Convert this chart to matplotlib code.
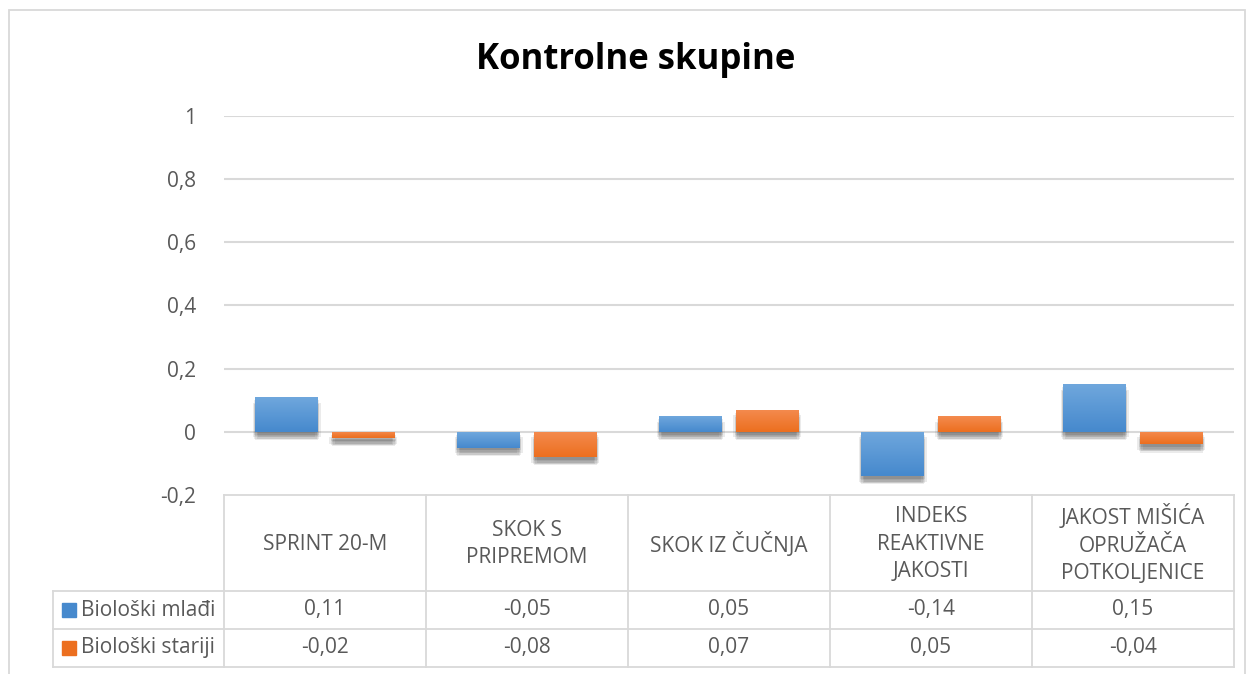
import numpy as np
import matplotlib.pyplot as plt
import matplotlib.patheffects as pe
from matplotlib.lines import Line2D
from matplotlib.patches import Rectangle
from matplotlib.transforms import blended_transform_factory

plt.rcParams['font.family'] = ['Open Sans', 'DejaVu Sans']

# data
categories = ["SPRINT 20-M", "SKOK S\nPRIPREMOM", "SKOK IZ ČUČNJA",
              "INDEKS\nREAKTIVNE\nJAKOSTI", "JAKOST MIŠIĆA\nOPRUŽAČA\nPOTKOLJENICE"]
series_names = ["Biološki mlađi", "Biološki stariji"]
mladi = [0.11, -0.05, 0.05, -0.14, 0.15]
stariji = [-0.02, -0.08, 0.07, 0.05, -0.04]
yticks = [-0.2, 0, 0.2, 0.4, 0.6, 0.8, 1]

W, H = 1251, 674
blue_top, blue_bot = "#6fa7dd", "#4689cd"
orange_top, orange_bot = "#f48b4f", "#ec6f1f"
grid_c = "#d9d9d9"
text_c = "#595959"
fs = 15

fig = plt.figure(figsize=(W / 100, H / 100), dpi=100)


def fx(x):
    return x / W


def fy(y):
    return 1 - y / H


def hline(x0, x1, y):
    fig.add_artist(Line2D([fx(x0), fx(x1)], [fy(y), fy(y)], color=grid_c, lw=1.3,
                          transform=fig.transFigure))


def vline(x, y0, y1):
    fig.add_artist(Line2D([fx(x), fx(x)], [fy(y0), fy(y1)], color=grid_c, lw=1.3,
                          transform=fig.transFigure))


# outer chart border
fig.add_artist(Rectangle((fx(9), fy(690)), fx(1236), 680 / H, fill=False,
                         edgecolor=grid_c, lw=1.3, transform=fig.transFigure))

left, right, top, bottom = 224, 1234, 116, 495
ax = fig.add_axes([fx(left), fy(bottom), fx(right - left), (bottom - top) / H])
ax.set_xlim(-0.5, 4.5)
ax.set_ylim(-0.2, 1)
for s in ax.spines.values():
    s.set_visible(False)
ax.set_xticks([])
ax.set_yticks(yticks)
ax.set_yticklabels([f"{t:g}".replace(".", ",") for t in yticks], fontsize=fs, color=text_c)
ax.tick_params(axis='y', length=0, pad=20)
for t in yticks[1:]:
    ax.axhline(t, color=grid_c, lw=1.5, zorder=1)

x = np.arange(len(categories))
bw = 0.31
off = 0.19

# soft shadow: a few faint offset copies
shadow = [pe.SimplePatchShadow(offset=(dx, dy), shadow_rgbFace='#444444', alpha=0.1)
          for dx, dy in [(-1, -2), (1, -2), (0, -3), (-1, -5), (1, -5), (0, -6), (2, -4), (-2, -4)]]


def grad_bars(xs, vals, ctop, cbot):
    bars = ax.bar(xs, vals, width=bw, color=cbot, zorder=2,
                  path_effects=shadow + [pe.Normal()])
    cmap = plt.matplotlib.colors.LinearSegmentedColormap.from_list("g", [cbot, ctop])
    for b, v in zip(bars, vals):
        x0 = b.get_x()
        y0, y1 = min(0, v), max(0, v)
        img = ax.imshow(np.linspace(0, 1, 50).reshape(-1, 1), cmap=cmap, origin='lower',
                        extent=[x0, x0 + bw, y0, y1], aspect='auto', zorder=3)
        img.set_clip_path(b)
    return bars


grad_bars(x - off, mladi, blue_top, blue_bot)
grad_bars(x + off, stariji, orange_top, orange_bot)
ax.set_xlim(-0.5, 4.5)
ax.set_ylim(-0.2, 1)

# title
fig.text(fx(636), fy(60), "Kontrolne skupine", ha='center', va='center',
         fontsize=25, fontweight='bold', color='black')

# data table
row1, row2, row3 = 591, 629, 667
hline(left, right, bottom)
hline(53, right, row1)
hline(53, right, row2)
hline(53, right, row3)
vline(53, row1, row3)
for i in range(len(categories) + 1):
    vline(left + i * (right - left) / len(categories), bottom, row3)

tr = blended_transform_factory(ax.transData, fig.transFigure)
for i, cat in enumerate(categories):
    fig.text(i, fy((bottom + row1) / 2 + 1), cat, transform=tr, ha='center', va='center',
             fontsize=fs, color=text_c, linespacing=1.42)
    fig.text(i, fy((row1 + row2) / 2), f"{mladi[i]:.2f}".replace(".", ","), transform=tr,
             ha='center', va='center', fontsize=fs, color=text_c)
    fig.text(i, fy((row2 + row3) / 2), f"{stariji[i]:.2f}".replace(".", ","), transform=tr,
             ha='center', va='center', fontsize=fs, color=text_c)

for name, c, (ya, yb) in zip(series_names, [blue_bot, orange_bot], [(row1, row2), (row2, row3)]):
    ym = (ya + yb) / 2
    fig.add_artist(Rectangle((fx(62), fy(ym + 7)), fx(14), 14 / H, color=c,
                             transform=fig.transFigure))
    fig.text(fx(81), fy(ym), name, ha='left', va='center', fontsize=fs, color=text_c)

fig.savefig("out.png", dpi=100)
